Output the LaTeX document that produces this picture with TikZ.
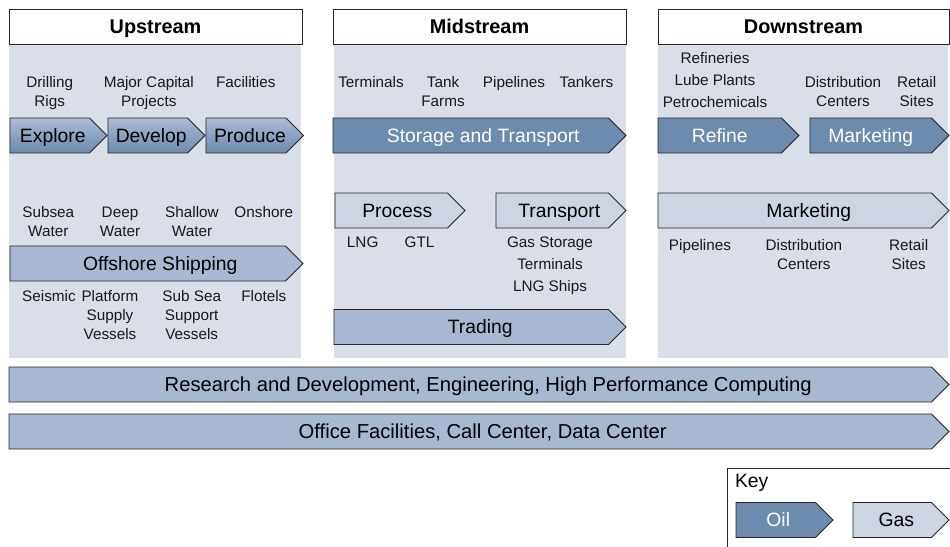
\documentclass[tikz,border=0pt]{standalone}
\usepackage{fontspec}
\setmainfont{Liberation Sans}
\usepackage{tikz}
\usetikzlibrary{shapes.symbols}
\definecolor{panelbg}{RGB}{217,222,232}
\definecolor{oilblue}{RGB}{109,139,175}
\definecolor{gasblue}{RGB}{205,212,226}
\definecolor{midblue}{RGB}{169,184,209}
\definecolor{shadetop}{RGB}{172,188,211}
\definecolor{shadebot}{RGB}{108,137,174}
\newcommand{\lblfont}{\fontsize{8.7}{10.8}\selectfont}
\newcommand{\arrfont}{\fontsize{11}{13}\selectfont}
\newcommand{\barfont}{\fontsize{11.5}{13.5}\selectfont}
\newcommand{\hdfont}{\fontsize{11.3}{13.5}\selectfont\bfseries}

\begin{document}
\begin{tikzpicture}[
  x=0.2mm, y=-0.2mm,
  every node/.style={inner sep=0pt, outer sep=0pt},
  header/.style={draw=black!85, fill=white, line width=0.5pt,
                 minimum width=293*0.2mm, minimum height=35*0.2mm, font=\hdfont,
                 text height=10.3pt, text depth=2.2pt},
  chev/.style={signal, signal to=east, signal from=nowhere, signal pointer angle=90,
               draw=black!85, line width=0.5pt, minimum height=35*0.2mm,
               anchor=west, font=\arrfont, text height=10pt, text depth=2.1pt},
  oil/.style={chev, fill=oilblue, text=white},
  gas/.style={chev, fill=gasblue},
  mid/.style={chev, fill=midblue},
  shaded/.style={chev, top color=shadetop, bottom color=shadebot},
  lbl/.style={font=\lblfont, align=center, anchor=north, text=black!90},
]
\useasboundingbox (0,0) rectangle (950,546);

% Panels
\fill[panelbg] (9,44) rectangle (301,358);
\fill[panelbg] (334,44) rectangle (626,358);
\fill[panelbg] (658,44) rectangle (948,358);

% Headers
\node[header] (upstream) at (155.5,26.5) {Upstream};
\node[header] (midstream) at (479.5,26.5) {Midstream};
\node[header, minimum width=291*0.2mm] (downstream) at (803.5,26.5) {Downstream};

% Upstream
\node[lbl] (rigs) at (49.7,76.4) {Drilling\\Rigs};
\node[lbl] (capital) at (148.8,76.4) {Major Capital\\Projects};
\node[lbl] (facilities) at (245.8,76.4) {Facilities};
\node[shaded, minimum width=97*0.2mm] (explore) at (10,135.5) {\hspace*{1.2mm}Explore};
\node[shaded, minimum width=97*0.2mm] (develop) at (108,135.5) {\hspace*{1.4mm}Develop};
\node[shaded, minimum width=96*0.2mm] (produce) at (206,135.5) {\hspace*{1.6mm}Produce};
\node[lbl] (subsea) at (48.3,206.5) {Subsea\\Water};
\node[lbl] (deep) at (120,206.5) {Deep\\Water};
\node[lbl] (shallow) at (192,206.5) {Shallow\\Water};
\node[lbl] (onshore) at (263.8,206.5) {Onshore};
\node[mid, minimum width=293*0.2mm] (offshore) at (10,263.5) {\hspace*{5mm}Offshore Shipping};
\node[lbl] (seismic) at (49,290.4) {Seismic};
\node[lbl] (platform) at (110,290.4) {Platform\\Supply\\Vessels};
\node[lbl] (subsupport) at (191.7,290.4) {Sub Sea\\Support\\Vessels};
\node[lbl] (flotels) at (263.8,290.4) {Flotels};

% Midstream
\node[lbl] (terminals) at (371,76.4) {Terminals};
\node[lbl] (tankfarms) at (443,76.4) {Tank\\Farms};
\node[lbl] (pipelines) at (514,76.4) {Pipelines};
\node[lbl] (tankers) at (586.5,76.4) {Tankers};
\node[oil, minimum width=293*0.2mm] (storage) at (333,135.5) {\hspace*{5mm}Storage and Transport};
\node[gas, minimum width=130*0.2mm] (process) at (335,210.5) {\hspace*{2.4mm}Process};
\node[gas, minimum width=130*0.2mm] (transport) at (496,210.5) {\hspace*{2.8mm}Transport};
\node[lbl] (lng) at (362.7,237.1) {LNG};
\node[lbl] (gtl) at (419.5,237.1) {GTL};
\node[lbl] (gasstorage) at (550,237.1) {Gas Storage\\[1.7pt]Terminals\\[1.7pt]LNG Ships};
\node[mid, minimum width=292*0.2mm] (trading) at (334,327) {\hspace*{3.6mm}Trading};

% Downstream
\node[lbl] (refineries) at (715,52.9) {Refineries\\[1.7pt]Lube Plants\\[1.7pt]Petrochemicals};
\node[lbl] (distrib) at (843,76.4) {Distribution\\Centers};
\node[lbl] (retail) at (916.7,76.4) {Retail\\Sites};
\node[oil, minimum width=141*0.2mm] (refine) at (658,135.5) {Refine};
\node[oil, minimum width=139*0.2mm] (marketoil) at (810,135.5) {Marketing};
\node[gas, minimum width=291*0.2mm] (marketgas) at (658,210.5) {\hspace*{5.6mm}Marketing};
\node[lbl] (dpipelines) at (700,239.4) {Pipelines};
\node[lbl] (ddistrib) at (803.8,239.4) {Distribution\\Centers};
\node[lbl] (dretail) at (908.7,239.4) {Retail\\Sites};

% Shared services
\node[mid, font=\barfont, minimum width=940*0.2mm] (research) at (9,384.5)
  {\hspace*{7.2mm}Research and Development, Engineering, High Performance Computing};
\node[mid, font=\barfont, minimum width=940*0.2mm] (office) at (9,431.5)
  {\hspace*{5mm}Office Facilities, Call Center, Data Center};

% Key
\draw[black!85, line width=0.5pt] (727,548) |- (951,468);
\node[font=\arrfont, anchor=west] (key) at (735,482.5) {Key};
\node[oil, minimum width=97*0.2mm] (keyoil) at (736,520) {\hspace*{1mm}Oil};
\node[gas, minimum width=96*0.2mm] (keygas) at (853,520) {\hspace*{1.6mm}Gas};
\end{tikzpicture}
\end{document}
